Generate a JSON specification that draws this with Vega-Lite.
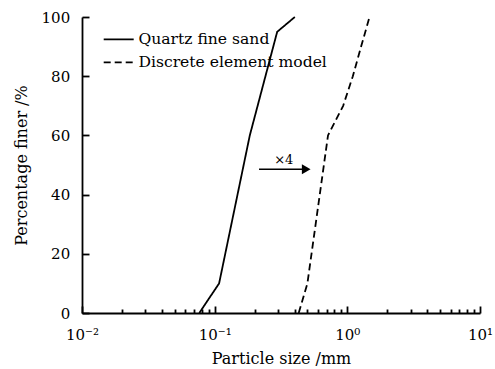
{
  "$schema": "https://vega.github.io/schema/vega-lite/v6.json",
  "width": 398,
  "height": 296,
  "autosize": "none",
  "padding": {"left": 82, "top": 17, "right": 15, "bottom": 56},
  "config": {
    "view": {"stroke": null},
    "font": "DejaVu Serif",
    "axis": {
      "grid": false,
      "domainColor": "black",
      "domainWidth": 1.8,
      "tickColor": "black",
      "tickWidth": 1.8,
      "labelColor": "black",
      "labelFont": "DejaVu Serif",
      "labelFontSize": 15,
      "titleFont": "DejaVu Serif",
      "titleFontSize": 16,
      "titleFontWeight": "normal",
      "titleColor": "black"
    }
  },
  "resolve": {"axis": {"x": "independent", "y": "independent"}},
  "datasets": {
    "curves": [
      {"series": "Quartz fine sand", "size": 0.0766, "finer": 0},
      {"series": "Quartz fine sand", "size": 0.108, "finer": 10},
      {"series": "Quartz fine sand", "size": 0.184, "finer": 60},
      {"series": "Quartz fine sand", "size": 0.296, "finer": 95},
      {"series": "Quartz fine sand", "size": 0.402, "finer": 100},
      {"series": "Discrete element model", "size": 0.43, "finer": 0},
      {"series": "Discrete element model", "size": 0.5, "finer": 10},
      {"series": "Discrete element model", "size": 0.715, "finer": 60},
      {"series": "Discrete element model", "size": 0.93, "finer": 70},
      {"series": "Discrete element model", "size": 1.1, "finer": 80},
      {"series": "Discrete element model", "size": 1.27, "finer": 90},
      {"series": "Discrete element model", "size": 1.47, "finer": 100}
    ],
    "arrow": [
      {"from": 0.216, "to": 0.49, "level": 48.6, "label": "×4", "labelAt": 0.332, "labelLevel": 51.7}
    ]
  },
  "layer": [
    {
      "data": {"name": "curves"},
      "mark": {"type": "line", "color": "black", "strokeWidth": 1.8},
      "encoding": {
        "x": {
          "field": "size",
          "type": "quantitative",
          "scale": {"type": "log", "domain": [0.01, 10]},
          "axis": {
            "orient": "bottom",
            "title": "Particle size /mm",
            "values": [0.01, 0.1, 1, 10],
            "labelExpr": "datum.value == 0.01 ? '10⁻²' : datum.value == 0.1 ? '10⁻¹' : datum.value == 1 ? '10⁰' : datum.value == 10 ? '10¹' : ''",
            "labelFlush": false,
            "labelOverlap": false,
            "ticks": false,
            "labelPadding": 14,
            "titleY": 45,
            "titleBaseline": "middle"
          }
        },
        "y": {
          "field": "finer",
          "type": "quantitative",
          "scale": {"domain": [0, 100]},
          "axis": {
            "orient": "left",
            "title": "Percentage finer /%",
            "values": [0, 20, 40, 60, 80, 100],
            "ticks": false,
            "labelPadding": 12.3,
            "titleX": -60.3,
            "titleBaseline": "middle"
          }
        },
        "strokeDash": {
          "field": "series",
          "type": "nominal",
          "scale": {"domain": ["Quartz fine sand", "Discrete element model"], "range": [[1, 0], [7, 4]]},
          "legend": {
            "orient": "none",
            "legendX": 20.7,
            "legendY": 11.1,
            "title": null,
            "padding": 0,
            "symbolType": "stroke",
            "symbolSize": 900,
            "symbolStrokeWidth": 1.8,
            "symbolStrokeColor": "black",
            "labelFont": "DejaVu Serif",
            "labelFontSize": 15.6,
            "labelColor": "black",
            "labelOffset": 3.7,
            "labelLimit": 400,
            "clipHeight": 22.4,
            "rowPadding": 0
          }
        }
      }
    },
    {
      "data": {"name": "arrow"},
      "mark": {"type": "rule", "color": "black", "strokeWidth": 1.5},
      "encoding": {
        "x": {
          "field": "from",
          "type": "quantitative",
          "axis": {
            "orient": "top",
            "offset": -296,
            "values": [0.01, 0.02, 0.03, 0.04, 0.05, 0.06, 0.07, 0.08, 0.09, 0.1, 0.2, 0.3, 0.4, 0.5, 0.6, 0.7, 0.8, 0.9, 1, 2, 3, 4, 5, 6, 7, 8, 9, 10],
            "labels": false,
            "domain": false,
            "title": null,
            "tickSize": {"condition": {"test": "datum.value == 0.01 || datum.value == 0.1 || datum.value == 1 || datum.value == 10", "value": 7}, "value": 4}
          }
        },
        "x2": {"field": "to"},
        "y": {
          "field": "level",
          "type": "quantitative",
          "axis": {
            "orient": "right",
            "offset": -398,
            "values": [0, 20, 40, 60, 80, 100],
            "labels": false,
            "domain": false,
            "title": null,
            "tickSize": 7
          }
        }
      }
    },
    {
      "data": {"name": "arrow"},
      "mark": {"type": "point", "shape": "triangle-right", "filled": true, "size": 100, "color": "black", "opacity": 1},
      "encoding": {
        "x": {"field": "to", "type": "quantitative", "axis": null},
        "y": {"field": "level", "type": "quantitative", "axis": null}
      }
    },
    {
      "data": {"name": "arrow"},
      "mark": {"type": "text", "font": "DejaVu Serif", "fontSize": 13, "color": "black"},
      "encoding": {
        "x": {"field": "labelAt", "type": "quantitative", "axis": null},
        "y": {"field": "labelLevel", "type": "quantitative", "axis": null},
        "text": {"field": "label"}
      }
    }
  ]
}
